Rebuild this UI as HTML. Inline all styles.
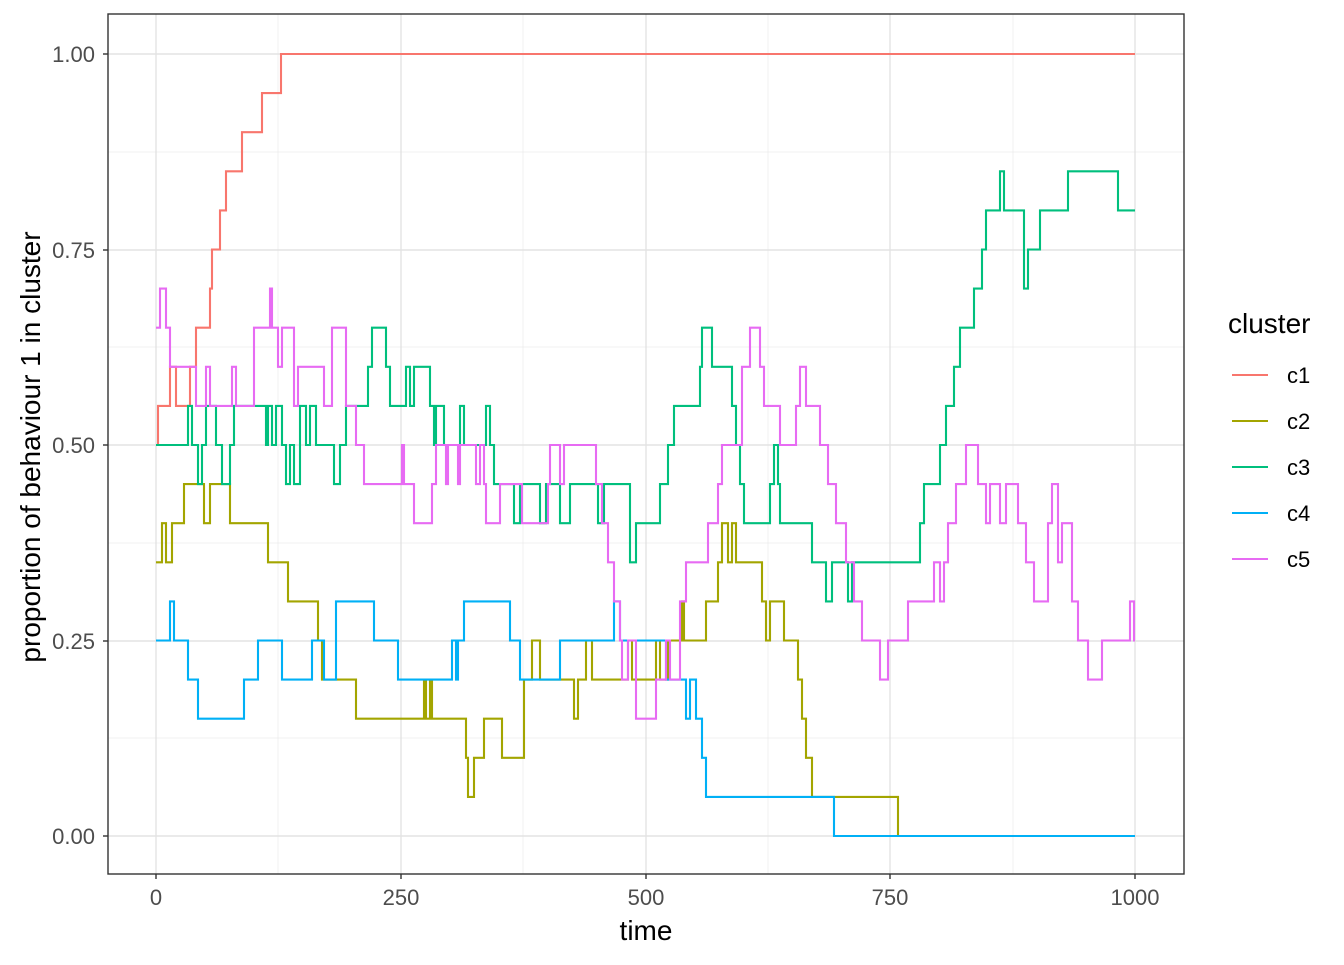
<!DOCTYPE html>
<html><head><meta charset="utf-8"><style>
body{margin:0;background:#fff;}
text{font-family:"Liberation Sans",Arial,sans-serif;}
</style></head><body>
<svg id="s" width="1344" height="960" xmlns="http://www.w3.org/2000/svg">
<rect width="1344" height="960" fill="#fff"/>
<g id="grid"></g>
<g id="series" fill="none" stroke-width="2.1"></g>
<rect x="108" y="14" width="1076" height="860" fill="none" stroke="#333" stroke-width="1.4"/>
<g font-size="22" fill="#4d4d4d" text-anchor="end">
<text x="95" y="62">1.00</text><text x="95" y="258">0.75</text><text x="95" y="453">0.50</text><text x="95" y="649">0.25</text><text x="95" y="844">0.00</text>
</g>
<g font-size="22" fill="#4d4d4d" text-anchor="middle">
<text x="156" y="905">0</text><text x="401" y="905">250</text><text x="646" y="905">500</text><text x="890" y="905">750</text><text x="1135" y="905">1000</text>
</g>
<g stroke="#333" stroke-width="1.4">
<line x1="103" x2="108" y1="54" y2="54"/><line x1="103" x2="108" y1="250" y2="250"/><line x1="103" x2="108" y1="445" y2="445"/><line x1="103" x2="108" y1="641" y2="641"/><line x1="103" x2="108" y1="836" y2="836"/>
<line y1="874" y2="879" x1="156" x2="156"/><line y1="874" y2="879" x1="401" x2="401"/><line y1="874" y2="879" x1="646" x2="646"/><line y1="874" y2="879" x1="890" x2="890"/><line y1="874" y2="879" x1="1135" x2="1135"/>
</g>
<text x="646" y="940" font-size="28" text-anchor="middle" fill="#000">time</text>
<text transform="translate(40,447) rotate(-90)" font-size="28" text-anchor="middle" fill="#000">proportion of behaviour 1 in cluster</text>
<text x="1228" y="333" font-size="28" fill="#000">cluster</text>
<g stroke-width="2.1">
<line x1="1232" x2="1268" y1="375" y2="375" stroke="#F8766D"/>
<line x1="1232" x2="1268" y1="421" y2="421" stroke="#A3A500"/>
<line x1="1232" x2="1268" y1="467" y2="467" stroke="#00BF7D"/>
<line x1="1232" x2="1268" y1="513" y2="513" stroke="#00B0F6"/>
<line x1="1232" x2="1268" y1="559" y2="559" stroke="#E76BF3"/>
</g>
<g font-size="22" fill="#000">
<text x="1287" y="383">c1</text><text x="1287" y="429">c2</text><text x="1287" y="475">c3</text><text x="1287" y="521">c4</text><text x="1287" y="567">c5</text>
</g>
</svg>
<script>
var NS="http://www.w3.org/2000/svg";
function el(p,t,a){var e=document.createElementNS(NS,t);for(var k in a)e.setAttribute(k,a[k]);p.appendChild(e);return e;}
var g=document.getElementById("grid");
[152,347,543,738].forEach(function(y){el(g,"line",{x1:108,x2:1184,y1:y,y2:y,stroke:"#ebebeb","stroke-width":0.7});});
[278,523,768,1013].forEach(function(x){el(g,"line",{x1:x,x2:x,y1:14,y2:874,stroke:"#ebebeb","stroke-width":0.7});});
[54,250,445,641,836].forEach(function(y){el(g,"line",{x1:108,x2:1184,y1:y,y2:y,stroke:"#e3e3e3","stroke-width":1.4});});
[156,401,646,890,1135].forEach(function(x){el(g,"line",{x1:x,x2:x,y1:14,y2:874,stroke:"#e3e3e3","stroke-width":1.4});});
function Y(v){return 836-782*v;}
function step(d,col){var s="M"+d[0]+" "+Y(d[1]);for(var i=2;i<d.length;i+=2){s+=" H"+d[i]+" V"+Y(d[i+1]);}s+=" H1135";el(document.getElementById("series"),"path",{d:s,stroke:col});}
step([156,.5,158,.55,170,.6,176,.55,190,.6,196,.65,210,.7,212,.75,220,.8,226,.85,242,.9,262,.95,281,1],"#F8766D");
step([156,.35,162,.4,166,.35,172,.4,184,.45,204,.4,210,.45,230,.4,268,.35,288,.3,318,.25,322,.2,356,.15,424,.2,426,.15,430,.2,432,.15,466,.1,468,.05,474,.1,484,.15,502,.1,524,.2,532,.25,540,.2,574,.15,578,.2,586,.25,592,.2,628,.25,632,.2,656,.25,660,.2,668,.25,682,.3,684,.25,706,.3,718,.35,722,.4,728,.35,732,.4,736,.35,762,.3,766,.25,770,.3,784,.25,798,.2,802,.15,806,.1,812,.05,898,0],"#A3A500");
step([156,.5,188,.55,192,.5,198,.45,202,.5,206,.55,216,.5,222,.45,230,.5,234,.55,266,.5,268,.55,272,.5,276,.55,282,.5,286,.45,290,.5,294,.45,300,.55,306,.5,310,.55,316,.5,334,.45,340,.5,346,.55,368,.6,372,.65,386,.6,390,.55,406,.6,410,.55,414,.6,430,.55,434,.5,436,.55,444,.5,460,.55,464,.5,486,.55,490,.5,494,.45,514,.4,520,.45,540,.4,546,.45,560,.4,570,.45,598,.4,604,.45,630,.35,636,.4,660,.45,668,.5,674,.55,700,.6,702,.65,712,.6,732,.55,736,.5,740,.45,744,.4,770,.45,774,.5,778,.45,780,.4,812,.35,826,.3,832,.35,848,.3,852,.35,920,.4,924,.45,940,.5,946,.55,954,.6,960,.65,974,.7,982,.75,986,.8,1000,.85,1004,.8,1024,.7,1028,.75,1040,.8,1068,.85,1118,.8],"#00BF7D");
step([156,.25,170,.3,174,.25,188,.2,198,.15,244,.2,258,.25,282,.2,312,.25,324,.2,336,.3,374,.25,398,.2,452,.25,456,.2,458,.25,464,.3,510,.25,520,.2,560,.25,614,.3,620,.25,666,.2,686,.15,690,.2,696,.15,702,.1,706,.05,834,0],"#00B0F6");
step([156,.65,160,.7,166,.65,170,.6,196,.55,206,.6,210,.55,232,.6,236,.55,254,.65,270,.7,272,.65,278,.6,282,.65,294,.55,298,.6,324,.55,332,.65,346,.55,356,.5,364,.45,402,.5,404,.45,414,.4,432,.45,436,.5,446,.45,448,.5,458,.45,460,.5,476,.45,480,.5,484,.45,486,.4,500,.45,522,.4,548,.45,550,.5,560,.45,564,.5,596,.45,602,.4,608,.35,614,.3,620,.25,622,.2,628,.25,636,.15,656,.2,666,.25,670,.2,680,.3,686,.35,708,.4,718,.45,722,.5,742,.6,750,.65,760,.6,764,.55,780,.5,796,.55,800,.6,806,.55,820,.5,828,.45,836,.4,846,.35,854,.3,862,.25,880,.2,888,.25,908,.3,934,.35,940,.3,944,.35,948,.4,956,.45,966,.5,978,.45,986,.4,990,.45,1000,.4,1006,.45,1018,.4,1026,.35,1034,.3,1048,.4,1052,.45,1058,.35,1062,.4,1072,.3,1078,.25,1088,.2,1102,.25,1130,.3,1134,.25],"#E76BF3");
</script>
</body></html>
